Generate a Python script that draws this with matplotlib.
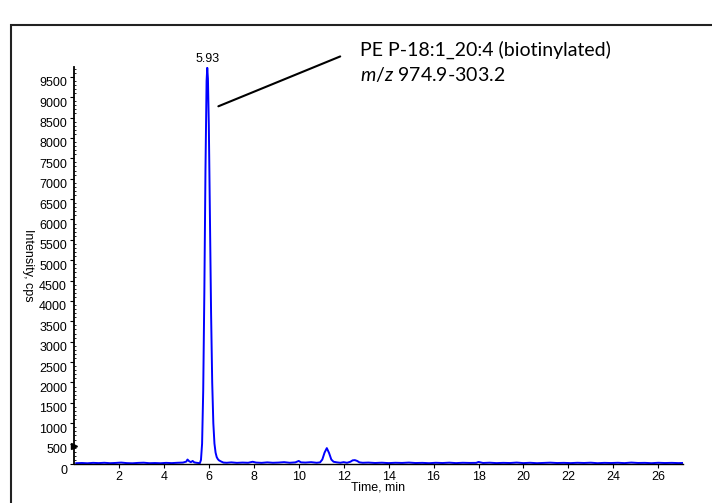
import matplotlib
matplotlib.use("Agg")
import matplotlib.pyplot as plt
import matplotlib.patches as patches
from matplotlib.ticker import MultipleLocator
import matplotlib.transforms as mtransforms

plt.rcParams["mathtext.fontset"] = "custom"
plt.rcParams["mathtext.it"] = "Lato:italic"
plt.rcParams["mathtext.rm"] = "Lato"

# chromatogram (time in min, intensity in cps)
time_min = [0.10, 0.35, 0.60, 0.85, 1.10, 1.35, 1.60, 1.85, 2.10, 2.35, 2.60, 2.85,
            3.10, 3.35, 3.60, 3.85, 4.10, 4.35, 4.60, 4.85,
            5.00, 5.05, 5.12, 5.20, 5.28, 5.35, 5.45, 5.55,
            5.60, 5.65, 5.70, 5.75, 5.80, 5.85, 5.90, 5.93, 5.96, 6.00, 6.05, 6.10,
            6.15, 6.20, 6.25, 6.30, 6.35, 6.40, 6.45, 6.55, 6.65,
            6.80, 7.00, 7.25, 7.50, 7.75, 7.95, 8.10, 8.35, 8.60, 8.85, 9.10, 9.35,
            9.60, 9.85, 10.00, 10.10, 10.30, 10.55, 10.80, 10.95,
            11.05, 11.15, 11.25, 11.35, 11.45, 11.55, 11.70, 11.85, 12.00, 12.15,
            12.30, 12.40, 12.50, 12.60, 12.70, 12.85, 13.10,
            13.40, 13.70, 14.00, 14.30, 14.60, 14.90, 15.20, 15.50, 15.80, 16.10,
            16.40, 16.70, 17.00, 17.30, 17.60, 17.90, 18.00, 18.20, 18.50, 18.80,
            19.10, 19.40, 19.70, 20.00, 20.30, 20.60, 20.90, 21.20, 21.50, 21.80,
            22.10, 22.40, 22.70, 23.00, 23.30, 23.60, 23.90, 24.20, 24.50, 24.80,
            25.10, 25.40, 25.70, 26.00, 26.30, 26.60, 26.90, 27.07]
intensity = [20, 25, 18, 28, 22, 30, 20, 26, 35, 22, 18, 27,
             32, 20, 24, 19, 28, 22, 30, 35,
             60, 110, 70, 45, 75, 40, 30, 25,
             20, 100, 500, 1800, 4200, 7200, 9400, 9720, 9450, 8300, 6000, 3700,
             2000, 1000, 500, 280, 170, 120, 90, 60, 35,
             30, 40, 28, 35, 30, 55, 35, 28, 40, 30, 35, 45,
             30, 40, 75, 40, 35, 45, 30, 40,
             110, 280, 390, 270, 110, 55, 40, 30, 45, 30,
             55, 90, 95, 75, 40, 30, 35,
             25, 32, 22, 30, 26, 35, 24, 28, 20, 30,
             24, 33, 22, 30, 26, 28, 50, 25, 32, 22,
             28, 24, 35, 22, 30, 20, 27, 33, 24, 28,
             22, 30, 25, 32, 20, 28, 24, 30, 22, 35,
             25, 28, 20, 30, 24, 28, 22, 25]

peak_rt = 5.93
peak_label = "5.93"
title_line1 = "PE P-18:1_20:4 (biotinylated)"
title_line2 = r"$\it{m/z}$ 974.9-303.2"
xticks = list(range(2, 27, 2))
yticks = list(range(0, 10000, 500))

fig = plt.figure(figsize=(7.12, 5.03), dpi=100)
ax = fig.add_axes([74/712, 1-464/503, (683-74)/712, (464-67)/503])

ax.plot(time_min, intensity, color="#0000ff", lw=1.4)
ax.set_xlim(0, 27.1)
ax.set_ylim(0, 9740)

for s in ["top", "right"]:
    ax.spines[s].set_visible(False)
ax.spines["left"].set_linewidth(1.3)
ax.spines["bottom"].set_linewidth(1.0)

ax.set_xticks(xticks)
ax.set_yticks(yticks)
ax.yaxis.set_minor_locator(MultipleLocator(100))
ax.tick_params(axis="both", labelsize=9, width=0.8, length=3, pad=2)
ax.tick_params(axis="y", which="minor", length=1.5, direction="in")
for lab in ax.get_xticklabels() + ax.get_yticklabels():
    lab.set_fontfamily("Liberation Sans")
# y tick labels sit a bit lower than the ticks in the original
offset = mtransforms.ScaledTranslation(0, -5/100, fig.dpi_scale_trans)
for lab in ax.get_yticklabels():
    lab.set_transform(lab.get_transform() + offset)

ax.set_xlabel("Time, min", fontsize=9, family="Liberation Sans", labelpad=-1)
fig.text(27.5/712, 1-265/503, "Intensity, cps", rotation=-90, ha="center",
         va="center", fontsize=9, family="Liberation Sans")

# little marker on the y axis
ax.plot([0], [450], marker=">", color="black", ms=4, clip_on=False)

ax.text(peak_rt, 9790, peak_label, ha="center", va="bottom", fontsize=9,
        family="Liberation Sans")

ax.annotate("", xy=(6.31, 8750), xytext=(11.96, 10025),
            arrowprops=dict(arrowstyle="-", color="black", lw=1.5),
            annotation_clip=False)
fig.text(360/712, 1-50/503, title_line1, ha="left", va="center", fontsize=14,
         family="Lato")
fig.text(360/712, 1-75/503, title_line2, ha="left", va="center", fontsize=14,
         family="Lato")

# frame around the figure (runs off the right and bottom edge)
rect = patches.Rectangle((11/712, -0.1), 1.0, 1-25/503+0.1, transform=fig.transFigure,
                         fill=False, lw=1.5, edgecolor="#222222", clip_on=False)
fig.patches.append(rect)

fig.savefig("out.png", dpi=100)
